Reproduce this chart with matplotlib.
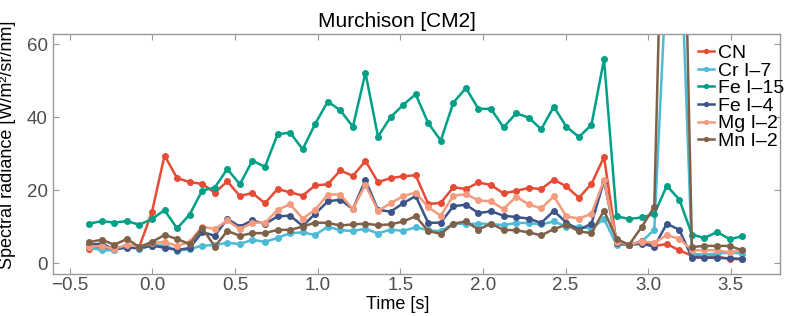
import matplotlib
matplotlib.use("Agg")
import matplotlib.pyplot as plt

plt.rcParams['font.family'] = ['Liberation Sans', 'DejaVu Sans']

time_s = [-0.383, -0.307, -0.231, -0.155, -0.079, -0.003, 0.073, 0.149, 0.225, 0.301,
          0.377, 0.453, 0.529, 0.605, 0.681, 0.757, 0.833, 0.909, 0.985, 1.061,
          1.137, 1.213, 1.289, 1.365, 1.441, 1.517, 1.593, 1.669, 1.745, 1.821,
          1.897, 1.973, 2.049, 2.125, 2.201, 2.277, 2.353, 2.429, 2.505, 2.581,
          2.657, 2.733, 2.809, 2.885, 2.961, 3.037, 3.113, 3.189, 3.265, 3.341,
          3.417, 3.493, 3.569]

cn = [3.8, 4.3, 4.0, 4.6, 4.5, 14.0, 29.5, 23.3, 22.2, 21.7,
      19.3, 22.4, 18.4, 19.2, 16.4, 20.3, 19.4, 18.5, 21.3, 21.6,
      25.4, 23.9, 28.0, 22.2, 23.3, 23.8, 24.1, 16.2, 16.5, 20.8,
      20.3, 22.1, 21.4, 19.1, 19.8, 20.6, 20.3, 22.9, 21.0, 17.9,
      21.7, 29.1, 5.5, 5.0, 6.0, 4.7, 5.2, 3.5, 2.0, 1.8,
      1.8, 1.1, 1.1]

cr_i7 = [4.3, 3.5, 3.5, 4.7, 3.8, 4.8, 5.0, 3.4, 3.8, 4.8,
         4.9, 5.6, 5.2, 6.4, 5.8, 6.9, 8.2, 8.4, 7.7, 10.0,
         9.0, 8.8, 9.4, 8.1, 9.2, 8.8, 9.8, 9.0, 8.7, 10.8,
         10.7, 10.8, 10.7, 10.4, 11.0, 11.0, 10.6, 11.4, 10.0, 10.0,
         9.4, 12.1, 5.0, 5.0, 5.9, 9.1, 81.0, 97.0, 2.5, 2.3,
         2.6, 2.9, 2.6]

fe_i15 = [10.8, 11.5, 11.1, 11.5, 10.5, 12.1, 14.5, 9.5, 13.3, 19.9,
          20.7, 25.8, 21.6, 28.1, 26.4, 35.3, 35.8, 31.2, 38.2, 44.3,
          41.9, 37.4, 52.2, 34.7, 40.0, 43.4, 46.3, 38.4, 33.6, 44.0,
          48.0, 42.3, 42.3, 37.2, 41.1, 39.9, 36.7, 42.9, 37.4, 34.6,
          37.9, 55.9, 12.8, 12.1, 12.5, 13.4, 21.2, 17.4, 7.8, 6.9,
          8.5, 6.6, 7.3]

fe_i4 = [5.0, 5.3, 3.8, 4.2, 4.1, 4.8, 4.2, 3.6, 4.1, 8.5,
         7.5, 12.1, 10.0, 11.7, 10.7, 12.8, 13.0, 10.2, 13.5, 16.9,
         17.4, 14.8, 22.8, 14.6, 14.1, 16.4, 18.4, 11.0, 11.1, 15.6,
         16.0, 13.7, 14.2, 13.0, 12.6, 12.2, 11.0, 14.3, 11.1, 9.1,
         10.8, 22.6, 5.5, 5.0, 5.3, 4.5, 10.8, 9.1, 1.5, 1.5,
         1.4, 1.3, 1.1]

mg_i2 = [4.5, 4.7, 3.9, 5.0, 4.5, 5.5, 5.8, 4.7, 5.8, 10.0,
         9.3, 11.7, 9.3, 11.1, 11.0, 14.6, 16.1, 12.2, 14.6, 18.8,
         18.8, 14.8, 21.5, 14.3, 16.4, 18.4, 19.3, 15.3, 13.0, 18.5,
         18.9, 17.2, 16.9, 14.8, 18.2, 16.1, 15.0, 18.3, 12.8, 12.2,
         13.5, 22.8, 5.9, 5.0, 5.9, 5.6, 7.6, 6.7, 3.5, 3.5,
         3.5, 2.9, 3.6]

mn_i2 = [5.7, 6.4, 5.0, 6.6, 4.4, 5.8, 7.7, 6.6, 5.2, 9.6,
         4.5, 8.8, 7.5, 8.2, 8.2, 9.1, 9.1, 10.0, 11.1, 11.0,
         10.3, 10.6, 10.8, 10.4, 10.6, 11.4, 12.8, 8.8, 8.0, 10.8,
         11.4, 9.2, 10.8, 9.1, 9.0, 8.4, 7.6, 9.3, 10.5, 8.7,
         8.2, 14.4, 6.6, 5.0, 9.9, 15.4, 151.0, 162.0, 4.4, 4.7,
         4.7, 4.7, 3.5]

series_names = ["CN", "Cr I\u20137", "Fe I\u201315", "Fe I\u20134", "Mg I\u20132", "Mn I\u20132"]
series_values = [cn, cr_i7, fe_i15, fe_i4, mg_i2, mn_i2]
colors = ["#E64B35", "#4DBBD5", "#00A087", "#3C5488", "#F39B7F", "#7E6148"]

fig = plt.figure(figsize=(7.89, 3.16), dpi=100)
ax = fig.add_axes([0.0676, 0.133, 0.9214, 0.759])

for name, vals, c in zip(series_names, series_values, colors):
    ax.plot(time_s, vals, '-o', color=c, lw=1.8, ms=4, label=name)

ax.set_xlim(-0.6, 3.8)
ax.set_ylim(-3, 62.8)
ax.set_xticks([-0.5, 0.0, 0.5, 1.0, 1.5, 2.0, 2.5, 3.0, 3.5])
ax.set_xticklabels(["\u22120.5", "0.0", "0.5", "1.0", "1.5", "2.0", "2.5", "3.0", "3.5"])
ax.set_yticks([0, 20, 40, 60])

ax.tick_params(direction='in', length=4, width=0.8, color='#999999',
               labelsize=13.5, labelcolor='#4D4D4D', top=True, right=True)
ax.tick_params(axis='x', pad=2)
ax.tick_params(axis='y', pad=4)
for s in ax.spines.values():
    s.set_color('#999999')
    s.set_linewidth(1.0)

ax.set_xlabel("Time [s]", fontsize=13)
ax.xaxis.set_label_coords(0.474, -0.09)
ax.set_ylabel("Spectral radiance [W/m\u00b2/sr/nm]", fontsize=13)
ax.yaxis.set_label_coords(-0.051, 0.537)
ax.set_title("Murchison [CM2]", fontsize=15, pad=5, x=0.473)

ax.legend(loc='upper right', frameon=False, fontsize=14, handlelength=0.8,
          handletextpad=0.2, labelspacing=0.0, borderaxespad=0.0,
          bbox_to_anchor=(1.016, 0.99), markerscale=0.7)

fig.savefig("out.png", dpi=100)
